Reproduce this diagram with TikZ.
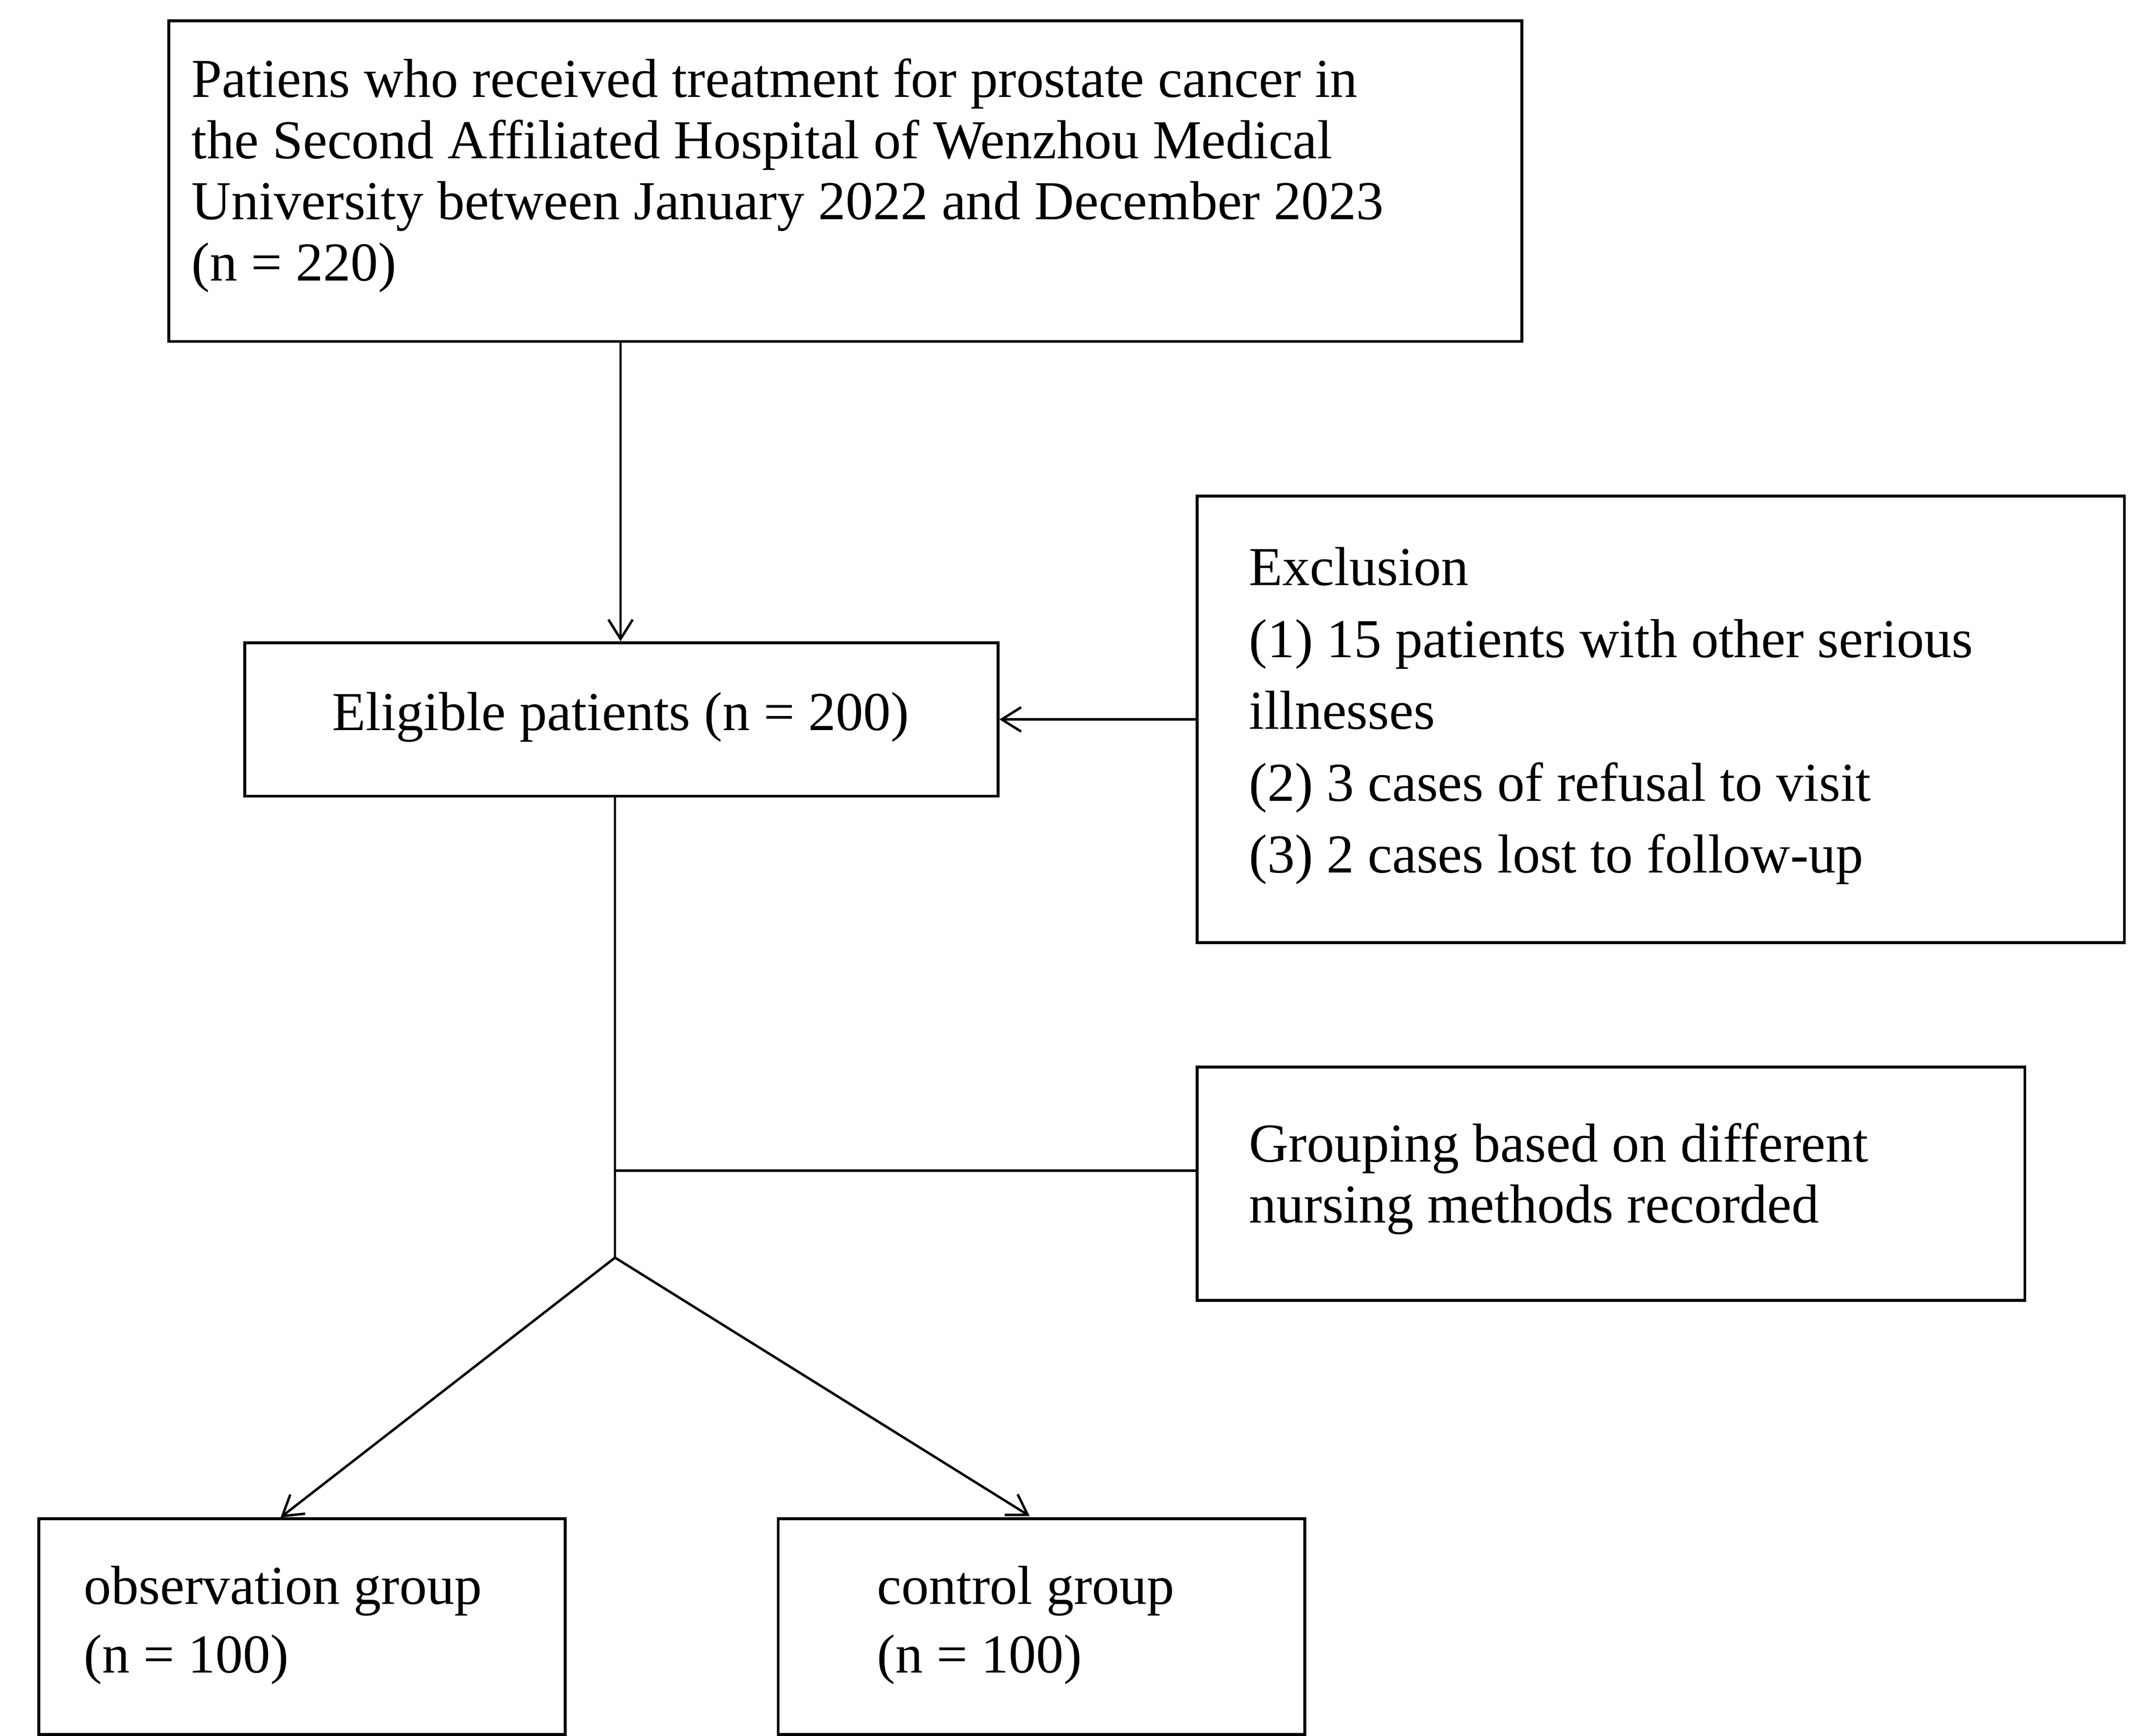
\documentclass[tikz,border=0pt]{standalone}
\usepackage{fontspec}
\setmainfont{Liberation Serif}
\usetikzlibrary{arrows.meta}
\begin{document}
\begin{tikzpicture}[x=0.1mm,y=-0.1mm,
  box/.style={draw,line width=0.6pt,inner sep=0pt,anchor=north west},
  txt/.style={anchor=west,align=left,inner sep=0pt,font=\fontsize{11.3}{12.6}\selectfont},
  arr/.style={-{Straight Barb[length=4pt,width=5pt]},line width=0.5pt},
  ln/.style={line width=0.5pt}]
\useasboundingbox (0,0) rectangle (1552,1256);
\node[box,minimum width=979*0.1mm,minimum height=232*0.1mm] (top) at (121,14) {};
\node[box,minimum width=545*0.1mm,minimum height=111*0.1mm] (elig) at (176,464) {};
\node[box,minimum width=671*0.1mm,minimum height=323*0.1mm] (excl) at (865,358) {};
\node[box,minimum width=599*0.1mm,minimum height=169*0.1mm] (grp) at (865,771) {};
\node[box,minimum width=381*0.1mm,minimum height=156*0.1mm] (obs) at (27,1098) {};
\node[box,minimum width=381*0.1mm,minimum height=156*0.1mm] (ctl) at (562,1098) {};

\node[txt] (ttop) at (138,127) {Patiens who received treatment for prostate cancer in\\the Second Affiliated Hospital of Wenzhou Medical\\University between January 2022 and December 2023\\(n = 220)};
\node[txt,anchor=center] (telig) at (449,519) {Eligible patients (n = 200)};
\node[txt,font=\fontsize{11.3}{14.8}\selectfont] (texcl) at (903,518) {Exclusion\\(1) 15 patients with other serious\\illnesses\\(2) 3 cases of refusal to visit\\(3) 2 cases lost to follow-up};
\node[txt] (tgrp) at (903,853) {Grouping based on different\\nursing methods recorded};
\node[txt,font=\fontsize{11.3}{14.2}\selectfont] (tobs) at (60,1176) {observation group\\(n = 100)};
\node[txt,font=\fontsize{11.3}{14.2}\selectfont] (tctl) at (634,1176) {control group\\(n = 100)};

\coordinate (a1) at (449,246);
\coordinate (a2) at (449,464);
\coordinate (b) at (445,575);
\coordinate (j) at (445,847);
\coordinate (s) at (445,910);
\coordinate (o) at (203,1098);
\coordinate (c) at (745,1097);
\draw[arr] (a1) -- (a2);
\draw[arr] (excl.west |- elig.east) -- (elig.east);
\draw[ln] (b) -- (s);
\draw[ln] (j) -- (grp.west |- j);
\draw[arr] (s) -- (o);
\draw[arr] (s) -- (c);
\end{tikzpicture}
\end{document}
